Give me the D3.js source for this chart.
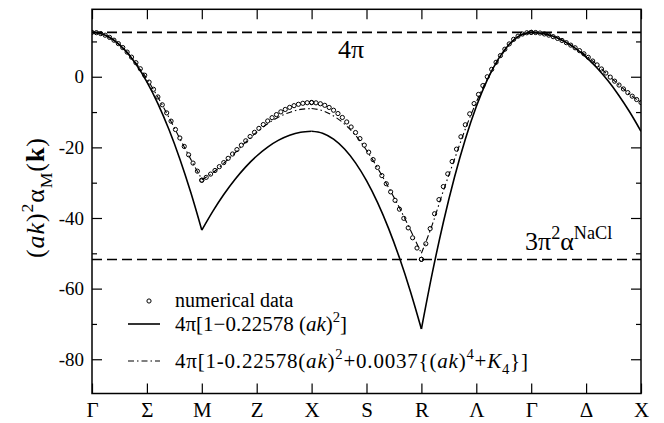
<!doctype html>
<html>
<head>
<meta charset="utf-8">
<title>Madelung sum along the k-path</title>
<script src="https://d3js.org/d3.v7.min.js"></script>
<style>
  body { margin: 0; background: #fff; }
  svg text { font-family: "Liberation Serif", "Times New Roman", serif; fill: #000; }
</style>
</head>
<body>
<svg id="chart" width="664" height="423"></svg>
<script>
// ---- data ----
var pathLabels = ["Γ", "Σ", "M", "Z", "X", "S", "R", "Λ", "Γ", "Δ", "X"];
var yMajor = [-80, -60, -40, -20, 0];
var yMinor = [-70, -50, -30, -10, 10];

var fourPi = 12.566;      // dashed line "4π"
var naclLine = -51.74;    // dashed line "3π²α^NaCl"

// numerical data, one array per path segment (Γ-M, M-X, X-R, R-Γ, Γ-X)
var numGM = [12.57, 12.48, 12.21, 11.76, 11.14, 10.35, 9.39, 8.27, 6.98, 5.55, 3.98, 2.26, 0.43,
             -1.52, -3.56, -5.72, -7.94, -10.23, -12.57, -14.94, -17.34, -19.73, -22.10, -24.45, -26.74, -29.3];
var numMX = [-29.3, -28.49, -27.57, -26.55, -25.46, -24.31, -23.10, -21.88, -20.63, -19.38, -18.14, -16.93, -15.75,
             -14.62, -13.54, -12.52, -11.59, -10.72, -9.94, -9.26, -8.67, -8.19, -7.80, -7.52, -7.36, -7.30];
var numXR = [-7.30, -7.39, -7.65, -8.09, -8.70, -9.48, -10.42, -11.53, -12.80, -14.23, -15.80, -17.52, -19.37,
             -21.36, -23.46, -25.68, -27.99, -30.3, -32.6, -35.0, -37.5, -40.1, -42.8, -45.6, -48.5, -51.7];
var numRG = [-51.7, -47.3, -43.0, -38.8, -34.8, -31.1, -27.5, -24.0, -20.5, -17.0, -13.6, -10.5, -7.6,
             -5.0, -2.5, 0.0, 2.1, 4.1, 6.0, 7.8, 9.3, 10.6, 11.5, 12.1, 12.45, 12.57];
var numGX = [12.57, 12.52, 12.38, 12.12, 11.78, 11.35, 10.85, 10.28, 9.65, 8.95, 8.2, 7.4, 6.5,
             5.5, 4.45, 3.35, 2.2, 1.05, -0.1, -1.25, -2.35, -3.45, -4.5, -5.5, -6.45, -7.3];

// 4π[1-0.22578(ak)^2]
var fitGM = [12.57, 12.01, 10.33, 7.53, 3.61, -1.43, -7.60, -14.88, -23.27, -32.80, -43.44];
var fitMX = [-43.44, -38.12, -33.36, -29.16, -25.52, -22.44, -19.92, -17.96, -16.56, -15.72, -15.44];
var fitXR = [-15.44, -16.00, -17.68, -20.48, -24.40, -29.44, -35.60, -42.88, -51.28, -60.80, -71.44];
var fitRG = [-71.44, -55.48, -41.20, -28.60, -17.68, -8.44, -0.88, 5.01, 9.21, 11.73, 12.57];
var fitGX = [12.57, 12.29, 11.45, 10.05, 8.09, 5.57, 2.49, -1.16, -5.36, -10.12, -15.44];

// with the fourth order term
var corrGM = [12.57, 12.0, 10.3, 7.6, 3.9, -0.6, -5.8, -11.5, -17.5, -23.4, -29.0];
var corrMX = [-29.2, -27.2, -24.5, -21.6, -18.5, -15.7, -13.3, -11.4, -10.1, -9.25, -9.0];
var corrXR = [-9.0, -9.6, -11.1, -13.4, -16.6, -20.8, -25.8, -31.3, -37.1, -43.4, -50.0];
var corrRG = [-50.0, -41.8, -32.3, -23.5, -14.8, -7.2, -0.6, 4.6, 9.0, 11.7, 12.57];
var corrGX = [12.57, 12.25, 11.35, 9.97, 8.2, 6.0, 3.35, 0.48, -2.35, -5.0, -7.3];

var numerical = [numGM, numMX, numXR, numRG, numGX];
var fitted = [fitGM, fitMX, fitXR, fitRG, fitGX];
var corrected = [corrGM, corrMX, corrXR, corrRG, corrGX];

// ---- layout ----
var plotL = 92, plotR = 641, plotT = 9.3, plotB = 393.5;
var serif = '"Liberation Serif", "Times New Roman", serif';

var svg = d3.select('#chart');

var x = d3.scaleLinear().domain([0, 10]).range([plotL, plotR]);
var y = d3.scaleLinear().domain([-89.7, 19.1]).range([plotB, plotT]);

// each segment covers two tick intervals of the path
function segPoints(vals, s){
    return vals.map(function(v, i){ return [2 * s + 2 * i / (vals.length - 1), v]; });
}

svg.append('clipPath').attr('id', 'plotclip')
    .append('rect').attr('x', plotL).attr('y', plotT)
    .attr('width', plotR - plotL).attr('height', plotB - plotT);

var plot = svg.append('g').attr('clip-path', 'url(#plotclip)');

// dashed reference lines
[fourPi, naclLine].forEach(function(v){
    plot.append('line')
        .attr('x1', x(0)).attr('x2', x(10))
        .attr('y1', y(v)).attr('y2', y(v))
        .attr('stroke', '#000').attr('stroke-width', 1.6)
        .attr('stroke-dasharray', '10,5');
});

var line = d3.line()
    .x(function(d){ return x(d[0]); })
    .y(function(d){ return y(d[1]); })
    .curve(d3.curveMonotoneX);

fitted.forEach(function(vals, s){
    plot.append('path')
        .attr('d', line(segPoints(vals, s)))
        .attr('fill', 'none').attr('stroke', '#000').attr('stroke-width', 1.6);
});

corrected.forEach(function(vals, s){
    plot.append('path')
        .attr('d', line(segPoints(vals, s)))
        .attr('fill', 'none').attr('stroke', '#000').attr('stroke-width', 1.1)
        .attr('stroke-dasharray', '6,3,1.5,3');
});

var pts = [];
numerical.forEach(function(vals, s){ pts = pts.concat(segPoints(vals, s)); });

plot.selectAll('circle.num')
    .data(pts)
    .enter()
    .append('circle')
    .attr('class', 'num')
    .attr('cx', function(d){ return x(d[0]); })
    .attr('cy', function(d){ return y(d[1]); })
    .attr('r', 2.1)
    .attr('fill', 'none').attr('stroke', '#000').attr('stroke-width', 1);

// ---- axes (ticks point inward) ----
var xTicks = d3.range(0, 11);

var gLeft = svg.append('g').attr('transform', 'translate(' + plotL + ',0)')
    .call(d3.axisLeft(y).tickValues(yMajor).tickSizeInner(-10).tickSizeOuter(0).tickPadding(8)
        .tickFormat(function(d){ return d === 0 ? '0' : '-' + Math.abs(d); }));
svg.append('g').attr('transform', 'translate(' + plotL + ',0)')
    .call(d3.axisLeft(y).tickValues(yMinor).tickSizeInner(-5).tickSizeOuter(0).tickFormat(''));
svg.append('g').attr('transform', 'translate(' + plotR + ',0)')
    .call(d3.axisRight(y).tickValues(yMajor).tickSizeInner(-10).tickSizeOuter(0).tickFormat(''));
svg.append('g').attr('transform', 'translate(' + plotR + ',0)')
    .call(d3.axisRight(y).tickValues(yMinor).tickSizeInner(-5).tickSizeOuter(0).tickFormat(''));
var gBottom = svg.append('g').attr('transform', 'translate(0,' + plotB + ')')
    .call(d3.axisBottom(x).tickValues(xTicks).tickSizeInner(-10).tickSizeOuter(0).tickPadding(9)
        .tickFormat(function(d){ return pathLabels[d]; }));
svg.append('g').attr('transform', 'translate(0,' + plotT + ')')
    .call(d3.axisTop(x).tickValues(xTicks).tickSizeInner(-10).tickSizeOuter(0).tickFormat(''));

svg.selectAll('.domain').remove();
svg.selectAll('.tick line').attr('stroke', '#000').attr('stroke-width', 1.2);
gLeft.attr('font-family', null).attr('font-size', null);
gBottom.attr('font-family', null).attr('font-size', null);
gLeft.selectAll('text').style('font-family', serif).style('font-size', '19px');
gBottom.selectAll('text').style('font-family', serif).style('font-size', '21px');

svg.append('rect')
    .attr('x', plotL).attr('y', plotT)
    .attr('width', plotR - plotL).attr('height', plotB - plotT)
    .attr('fill', 'none').attr('stroke', '#000').attr('stroke-width', 1.5);

// ---- text helpers ----
function richText(el, parts, size, supScale){
    var shift = 0;
    var sc = supScale || 0.65;
    parts.forEach(function(p){
        var t = el.append('tspan').text(p[0]);
        var want = 0, fs = size;
        if(p[1] === 'sup'){ want = -0.42 * size; fs = sc * size; }
        if(p[1] === 'sub'){ want = 0.3 * size; fs = sc * size; }
        if(p[1] === 'i') t.attr('font-style', 'italic');
        if(p[1] === 'b') t.attr('font-weight', 'bold');
        if(want !== shift){ t.attr('dy', want - shift); shift = want; }
        t.style('font-size', fs + 'px');
    });
    return el;
}

// y label
richText(svg.append('text')
    .attr('transform', 'translate(44,198) rotate(-90)')
    .attr('text-anchor', 'middle')
    .attr('textLength', 120).attr('lengthAdjust', 'spacing'),
    [['(', ''], ['ak', 'i'], [')', ''], ['2', 'sup'], ['α', ''], ['M', 'sub'], ['(', ''], ['k', 'b'], [')', '']], 26, 0.68);

// labels of the dashed lines
richText(svg.append('text').attr('x', 338).attr('y', 58), [['4π', '']], 26);
richText(svg.append('text').attr('x', 525).attr('y', 250),
    [['3π', ''], ['2', 'sup'], ['α', ''], ['NaCl', 'sup']], 26, 0.7);

// ---- legend ----
var lx1 = 128, lx2 = 160, tx = 175;
svg.append('circle').attr('cx', 149).attr('cy', 301).attr('r', 2.1)
    .attr('fill', 'none').attr('stroke', '#000').attr('stroke-width', 1);
richText(svg.append('text').attr('x', tx).attr('y', 307), [['numerical data', '']], 20);

svg.append('line').attr('x1', lx1).attr('x2', lx2).attr('y1', 324).attr('y2', 324)
    .attr('stroke', '#000').attr('stroke-width', 1.6);
richText(svg.append('text').attr('x', tx).attr('y', 331),
    [['4π[1−0.22578 (', ''], ['ak', 'i'], [')', ''], ['2', 'sup'], [']', '']], 21, 0.7);

svg.append('line').attr('x1', lx1).attr('x2', lx2).attr('y1', 361).attr('y2', 361)
    .attr('stroke', '#000').attr('stroke-width', 1.1).attr('stroke-dasharray', '6,3,1.5,3');
richText(svg.append('text').attr('x', tx).attr('y', 368)
    .attr('textLength', 353).attr('lengthAdjust', 'spacing'),
    [['4π[1-0.22578(', ''], ['ak', 'i'], [')', ''], ['2', 'sup'], ['+0.0037{(', ''], ['ak', 'i'], [')', ''],
     ['4', 'sup'], ['+', ''], ['K', 'i'], ['4', 'sub'], ['}]', '']], 21, 0.7);
</script>
</body>
</html>
